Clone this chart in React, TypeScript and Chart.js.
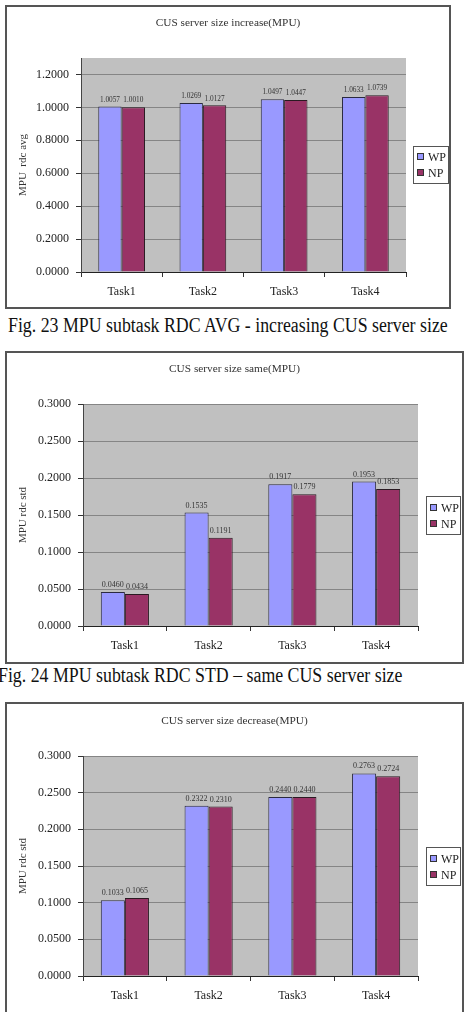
import React, { useEffect, useRef } from "react";
import { Chart, registerables } from "chart.js";

Chart.register(...registerables);

const categories = ["Task1", "Task2", "Task3", "Task4"];
const seriesNames = ["WP", "NP"];

const increaseWP = [1.0057, 1.0269, 1.0497, 1.0633];
const increaseNP = [1.001, 1.0127, 1.0447, 1.0739];

const sameWP = [0.046, 0.1535, 0.1917, 0.1953];
const sameNP = [0.0434, 0.1191, 0.1779, 0.1853];

const decreaseWP = [0.1033, 0.2322, 0.244, 0.2763];
const decreaseNP = [0.1065, 0.231, 0.244, 0.2724];

const chartTitles = [
  "CUS server size increase(MPU)",
  "CUS server size same(MPU)",
  "CUS server size decrease(MPU)",
];
const yAxisTitles = ["MPU  rdc avg", "MPU rdc std", "MPU rdc std"];
const captions = [
  "Fig. 23 MPU subtask RDC AVG - increasing CUS server size",
  "Fig. 24 MPU subtask RDC STD \u2013 same CUS server size",
];

const FONT = "'Liberation Serif', 'Times New Roman', serif";
const WP_COLOR = "#9999FF";
const NP_COLOR = "#993366";

type Spec = {
  title: string;
  yTitle: string;
  wp: number[];
  np: number[];
  max: number;
  step: number;
  box: { left: number; top: number; width: number; height: number };
  plot: { left: number; right: number; top: number; bottom: number };
  titleY: number;
  labelFont: number;
  legend: { x: number; y: number; w: number; h: number };
};

const plotBg = {
  id: "plotBg",
  beforeDraw(chart: any) {
    const { ctx, chartArea } = chart;
    ctx.save();
    ctx.fillStyle = "#C0C0C0";
    ctx.fillRect(chartArea.left, chartArea.top, chartArea.right - chartArea.left, chartArea.bottom - chartArea.top);
    ctx.restore();
  },
};

const boxTitle = {
  id: "boxTitle",
  afterDraw(chart: any, _args: any, opts: any) {
    const { ctx } = chart;
    ctx.save();
    ctx.font = `11.3px ${FONT}`;
    ctx.fillStyle = "#333";
    ctx.textAlign = "center";
    ctx.textBaseline = "middle";
    ctx.fillText(opts.text, chart.width / 2, opts.y);
    ctx.restore();
  },
};

const valueLabels = {
  id: "valueLabels",
  afterDatasetsDraw(chart: any, _args: any, opts: any) {
    const { ctx } = chart;
    ctx.save();
    ctx.font = `${opts.size}px ${FONT}`;
    ctx.fillStyle = "#333";
    ctx.textAlign = "center";
    ctx.textBaseline = "bottom";
    chart.data.datasets.forEach((ds: any, i: number) => {
      const meta = chart.getDatasetMeta(i);
      meta.data.forEach((el: any, j: number) => {
        ctx.fillText(Number(ds.data[j]).toFixed(4), el.x, el.y - 3);
      });
    });
    ctx.restore();
  },
};

const boxLegend = {
  id: "boxLegend",
  afterDraw(chart: any, _args: any, opts: any) {
    const { ctx } = chart;
    const { x, y, w, h } = opts;
    ctx.save();
    ctx.fillStyle = "#fff";
    ctx.fillRect(x, y, w, h);
    ctx.strokeStyle = "#555";
    ctx.lineWidth = 1;
    ctx.strokeRect(x + 0.5, y + 0.5, w - 1, h - 1);
    ctx.font = `12px ${FONT}`;
    ctx.textBaseline = "middle";
    ctx.textAlign = "left";
    chart.data.datasets.forEach((ds: any, i: number) => {
      const cy = Math.round(y + h * (i === 0 ? 0.3 : 0.72));
      ctx.fillStyle = ds.backgroundColor;
      ctx.fillRect(x + 4, cy - 4, 7, 7);
      ctx.strokeStyle = "#333";
      ctx.strokeRect(x + 4.5, cy - 3.5, 6, 6);
      ctx.fillStyle = "#222";
      ctx.fillText(ds.label, x + 15, cy + 1);
    });
    ctx.restore();
  },
};

const specs: Spec[] = [
  {
    title: chartTitles[0],
    yTitle: yAxisTitles[0],
    wp: increaseWP,
    np: increaseNP,
    max: 1.3,
    step: 0.2,
    box: { left: 5, top: 5, width: 446, height: 304 },
    plot: { left: 74, right: 399, top: 51, bottom: 265 },
    titleY: 16,
    labelFont: 7.3,
    legend: { x: 406, y: 139, w: 36, h: 38 },
  },
  {
    title: chartTitles[1],
    yTitle: yAxisTitles[1],
    wp: sameWP,
    np: sameNP,
    max: 0.3,
    step: 0.05,
    box: { left: 5, top: 351, width: 459, height: 313 },
    plot: { left: 76, right: 411, top: 51, bottom: 273 },
    titleY: 16,
    labelFont: 8,
    legend: { x: 419, y: 143, w: 35, h: 39 },
  },
  {
    title: chartTitles[2],
    yTitle: yAxisTitles[2],
    wp: decreaseWP,
    np: decreaseNP,
    max: 0.3,
    step: 0.05,
    box: { left: 5, top: 702, width: 459, height: 320 },
    plot: { left: 76, right: 411, top: 52, bottom: 272 },
    titleY: 17,
    labelFont: 8,
    legend: { x: 419, y: 143, w: 35, h: 39 },
  },
];

function ChartBox({ spec }: { spec: Spec }) {
  const ref = useRef<HTMLCanvasElement>(null);
  const cw = spec.box.width - 4;
  const ch = spec.box.height - 4;

  useEffect(() => {
    const chart = new Chart(ref.current as HTMLCanvasElement, {
      type: "bar",
      data: {
        labels: categories,
        datasets: [
          {
            label: seriesNames[0],
            data: spec.wp,
            backgroundColor: WP_COLOR,
            borderColor: "#2a2a40",
            borderWidth: 1,
            barPercentage: 1,
            categoryPercentage: 0.575,
          },
          {
            label: seriesNames[1],
            data: spec.np,
            backgroundColor: NP_COLOR,
            borderColor: "#2a1a22",
            borderWidth: 1,
            barPercentage: 1,
            categoryPercentage: 0.575,
          },
        ],
      },
      options: {
        animation: false,
        responsive: false,
        maintainAspectRatio: false,
        layout: { padding: { left: 0, top: spec.plot.top, bottom: 0, right: cw - spec.plot.right } },
        plugins: {
          legend: { display: false },
          title: { display: false },
          tooltip: { enabled: false },
          boxTitle: { text: spec.title, y: spec.titleY },
          valueLabels: { size: spec.labelFont },
          boxLegend: spec.legend,
        } as any,
        scales: {
          x: {
            grid: {
              display: true,
              drawOnChartArea: false,
              drawTicks: true,
              tickLength: 5,
              offset: true,
              tickColor: "#333",
              color: "#333",
            },
            border: { color: "#222", width: 1 },
            ticks: { color: "#222", font: { family: FONT, size: 12 }, padding: 8 },
            afterFit: (s: any) => {
              s.height = ch - spec.plot.bottom;
            },
          },
          y: {
            min: 0,
            max: spec.max,
            grid: { color: "#858585", tickColor: "#333", tickLength: 5, drawTicks: true },
            border: { color: "#444", width: 1 },
            ticks: {
              stepSize: spec.step,
              includeBounds: false,
              color: "#222",
              padding: 7,
              font: { family: FONT, size: 12 },
              callback: (v: any) => Number(v).toFixed(4),
            },
            title: {
              display: true,
              text: spec.yTitle,
              color: "#333",
              font: { family: FONT, size: 11 },
              padding: { top: 9.4, bottom: 0 },
            },
            afterFit: (s: any) => {
              s.width = spec.plot.left;
            },
          },
        } as any,
      },
      plugins: [plotBg, valueLabels, boxTitle, boxLegend],
    });
    return () => chart.destroy();
  }, []);

  return (
    <div
      style={{
        position: "absolute",
        left: spec.box.left,
        top: spec.box.top,
        width: spec.box.width,
        height: spec.box.height,
        border: "2px solid #555",
        boxSizing: "border-box",
        background: "#fff",
      }}
    >
      <canvas ref={ref} width={cw} height={ch} style={{ display: "block", width: cw, height: ch }} />
    </div>
  );
}

export default function App() {
  const capStyle: React.CSSProperties = {
    position: "absolute",
    fontFamily: FONT,
    fontSize: 20,
    lineHeight: "20px",
    whiteSpace: "nowrap",
    color: "#111",
    transform: "scaleX(0.891)",
    transformOrigin: "0 0",
  };
  return (
    <div
      style={{
        position: "absolute",
        left: 0,
        top: 0,
        width: 468,
        height: 1012,
        overflow: "hidden",
        background: "#fff",
      }}
    >
      {specs.map((s, i) => (
        <ChartBox key={i} spec={s} />
      ))}
      <div style={{ ...capStyle, left: 8, top: 315 }}>{captions[0]}</div>
      <div style={{ ...capStyle, left: -2, top: 665 }}>{captions[1]}</div>
    </div>
  );
}
